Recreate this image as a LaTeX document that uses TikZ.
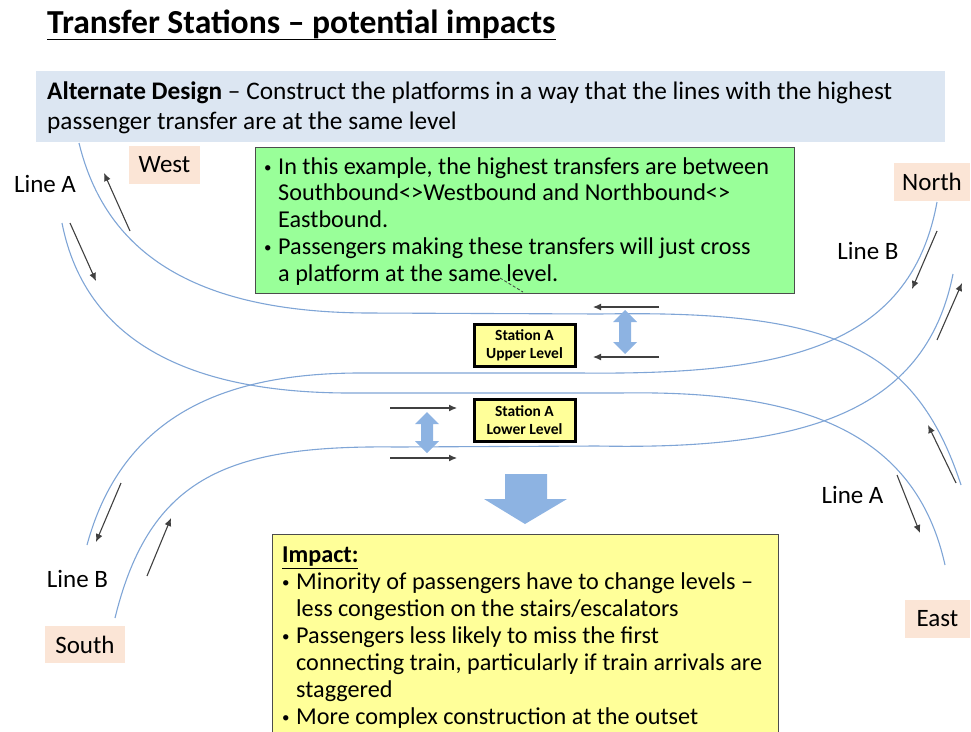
\documentclass[tikz,border=0pt]{standalone}
\usepackage{fontspec}
\setmainfont{Carlito}
\usetikzlibrary{arrows.meta}

\definecolor{trackblue}{HTML}{7FA5D6}
\definecolor{arrowblue}{HTML}{8DB3E2}
\definecolor{bannerblue}{HTML}{DCE6F2}
\definecolor{compasspeach}{HTML}{FBE5D6}
\definecolor{notegreen}{HTML}{99FF99}
\definecolor{noteyellow}{HTML}{FFFF99}

\newcommand{\bulletitem}{\makebox[14pt][l]{\fontsize{15}{15}\selectfont\raisebox{2pt}{•}}}
\newcommand{\bulletskip}{\hspace*{14pt}}

\begin{document}
\begin{tikzpicture}[x=1pt, y=-1pt]

    \tikzstyle{track} = [trackblue, line width=1.1]
    \tikzstyle{flow} = [-{Latex[length=8,width=7]}, black!75, line width=1.1]
    \tikzstyle{compass} = [fill=compasspeach, inner sep=0, font=\fontsize{25}{30}\selectfont]
    \tikzstyle{linelabel} = [inner sep=0, font=\fontsize{25}{30}\selectfont]
    \tikzstyle{station} = [draw=black, line width=3, fill=noteyellow, minimum width=101, minimum height=42, inner sep=0, align=center, font=\fontsize{15.5}{18}\selectfont\bfseries]
    \tikzstyle{note} = [draw=black!70, line width=1, anchor=north west, inner sep=0]
    \tikzstyle{notetext} = [anchor=north west, inner sep=0, align=left, font=\fontsize{24.2}{26.9}\selectfont]

    \useasboundingbox (0,0) rectangle (971,731);

    % heading
    \node[anchor=base west, inner sep=0, font=\fontsize{33.6}{38}\selectfont\bfseries] (title) at (47,33) {\underline{Transfer Stations -- potential impacts}};

    % banner
    \fill[bannerblue] (36,71) rectangle (945,142);
    \node[notetext, font=\fontsize{25.3}{30}\selectfont] (banner) at (47,82) {\textbf{Alternate Design} -- Construct the platforms in a way that the lines with the highest\\passenger transfer are at the same level};

    % line A, upper then lower
    \draw[track] (79,143) .. controls (105,250) and (190,312) .. (367,313) -- (600,314) .. controls (830,310) and (915,345) .. (961,485);
    \draw[track] (62,223) .. controls (82,325) and (165,393) .. (350,393) -- (620,393) .. controls (800,390) and (915,430) .. (945,565);

    % line B, upper then lower
    \draw[track] (937,202) .. controls (910,350) and (780,375) .. (580,373) -- (367,373) .. controls (240,372) and (125,405) .. (87,545);
    \draw[track] (953,274) .. controls (925,415) and (800,450) .. (597,446) -- (397,447) .. controls (230,445) and (150,475) .. (115,618);

    % direction of travel
    \draw[flow] (130,231) -- (104,173);
    \draw[flow] (70,223) -- (96,281);
    \draw[flow] (659,307) -- (593,307);
    \draw[flow] (659,357) -- (593,357);
    \draw[flow] (390,408) -- (457,408);
    \draw[flow] (390,458) -- (457,458);
    \draw[flow] (937,231) -- (912,289);
    \draw[flow] (937,340) -- (962,283);
    \draw[flow] (956,483) -- (928,425);
    \draw[flow] (897,475) -- (920,533);
    \draw[flow] (121,483) -- (96,542);
    \draw[flow] (147,576) -- (171,518);

    % stations
    \node[station] (upper) at (524.5,345) {Station A\\Upper Level};
    \node[station] (lower) at (524.5,420) {Station A\\Lower Level};

    % change of level
    \foreach \cx/\cy/\hh in {625/332/22, 427/432.5/20.5}
        \fill[arrowblue] (\cx,\cy-\hh) -- (\cx+12,\cy-\hh+12) -- (\cx+6,\cy-\hh+12) -- (\cx+6,\cy+\hh-12) -- (\cx+12,\cy+\hh-12) -- (\cx,\cy+\hh) -- (\cx-12,\cy+\hh-12) -- (\cx-6,\cy+\hh-12) -- (\cx-6,\cy-\hh+12) -- (\cx-12,\cy-\hh+12) -- cycle;
    \fill[arrowblue] (505,474) -- (547,474) -- (547,499) -- (567,499) -- (525,524) -- (484,499) -- (505,499) -- cycle;

    % compass points
    \node[compass, minimum width=71, minimum height=38] (west) at (164.5,165) {West};
    \node[compass, minimum width=76, minimum height=38] (north) at (932,182) {North};
    \node[compass, minimum width=80, minimum height=37] (south) at (85,644.5) {South};
    \node[compass, minimum width=65, minimum height=38] (east) at (937.5,619) {East};

    \node[linelabel] (lineAwest) at (45,184) {Line A};
    \node[linelabel] (lineBnorth) at (868,251) {Line B};
    \node[linelabel] (lineAeast) at (852.5,495) {Line A};
    \node[linelabel] (lineBsouth) at (77.5,579) {Line B};

    % note on the transfers
    \node[note, fill=notegreen, minimum width=539, minimum height=146] (transfernote) at (255,147) {};
    \node[notetext] (transfertext) at (264,157) {\bulletitem In this example, the highest transfers are between\\\bulletskip Southbound<>Westbound and Northbound<>\\\bulletskip Eastbound.\\\bulletitem Passengers making these transfers will just cross\\\bulletskip a platform at the same level.};
    \draw[black!75, densely dashed, line width=0.8] (500,278) -- (523,292);

    % impact note runs off the page
    \node[note, fill=noteyellow, minimum width=506, minimum height=202] (impactnote) at (272,534) {};
    \node[notetext] (impacttext) at (282,547) {\underline{\textbf{Impact:}}\\\bulletitem Minority of passengers have to change levels --\\\bulletskip less congestion on the stairs/escalators\\\bulletitem Passengers less likely to miss the first\\\bulletskip connecting train, particularly if train arrivals are\\\bulletskip staggered\\\bulletitem More complex construction at the outset};
\end{tikzpicture}
\end{document}
